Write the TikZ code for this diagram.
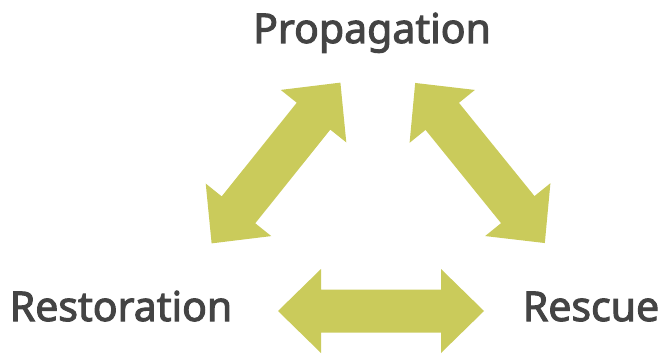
\documentclass[tikz,border=0pt]{standalone}
\usepackage{fontspec}
\setmainfont{Noto Sans}
\newfontfamily\lblfont{Noto Sans}[FakeBold=2.5]
\definecolor{arrowfill}{HTML}{CACB5B}
\definecolor{labeltext}{HTML}{444444}
\tikzset{
  lbl/.style={text=labeltext, font=\lblfont\fontsize{41}{41}\selectfont, inner sep=0pt, anchor=base},
  dblarrow/.pic={
    \fill[arrowfill] (-103,0) -- (-60,42) -- (-60,21.5) -- (60,21.5) -- (60,42) -- (103,0)
      -- (60,-42) -- (60,-21.5) -- (-60,-21.5) -- (-60,-42) -- cycle;
  }
}
\begin{document}
\begin{tikzpicture}[x=1pt,y=1pt]
\useasboundingbox (0,0) rectangle (668,356);
\node[lbl] (prop) at (372,313) {Propagation};
\node[lbl] (rest) at (121,35) {Restoration};
\node[lbl] (resc) at (591,35) {Rescue};
\pic[rotate=51.3] (leftarrow) at (276,193) {dblarrow};
\pic[rotate=-51] (rightarrow) at (480,193) {dblarrow};
\pic (bottomarrow) at (381,45) {dblarrow};
\end{tikzpicture}
\end{document}
